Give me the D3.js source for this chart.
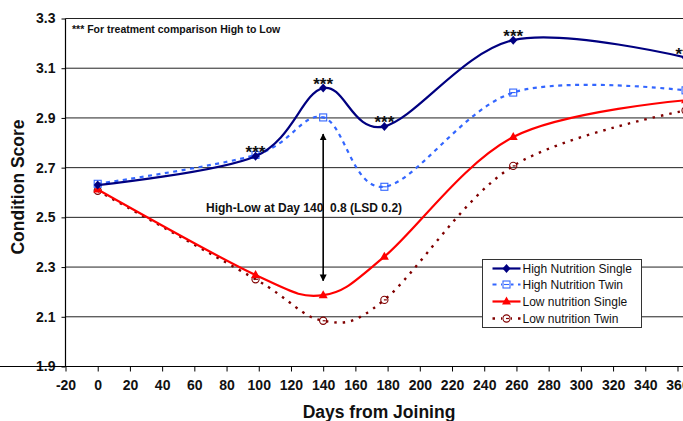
<!DOCTYPE html>
<html>
<head>
<meta charset="utf-8">
<script src="https://cdn.jsdelivr.net/npm/d3@7"></script>
<style>
  html, body { margin: 0; padding: 0; background: #fff; }
  svg { display: block; font-family: "Liberation Sans", Arial, sans-serif; }
</style>
</head>
<body>
<script>
// ---- Data ----
const days = [0, 98, 140, 178, 258, 365];
const highSingle = [2.630, 2.746, 3.020, 2.866, 3.213, 3.143];
const highTwin   = [2.635, 2.751, 2.902, 2.623, 3.002, 3.011];
const lowSingle  = [2.612, 2.268, 2.187, 2.342, 2.823, 2.971];
const lowTwin    = [2.607, 2.251, 2.084, 2.168, 2.707, 2.930];
const seriesNames = ["High Nutrition Single", "High Nutrition Twin", "Low nutrition Single", "Low nutrition Twin"];
const starDays = [98, 140, 178, 258, 365];
const xTickLabels = [-20, 0, 20, 40, 60, 80, 100, 120, 140, 160, 180, 200, 220, 240, 260, 280, 300, 320, 340, 360];
const yTickLabels = [1.9, 2.1, 2.3, 2.5, 2.7, 2.9, 3.1, 3.3];
const arrowDay = 140;
const arrowRange = [2.835, 2.245];
const noteText = "*** For treatment comparison High to Low";
const diffText = "High-Low at Day 140  0.8 (LSD 0.2)";

// ---- Layout ----
const W = 683, H = 421;
const svg = d3.select("body").append("svg").attr("width", W).attr("height", H);
svg.append("rect").attr("width", W).attr("height", H).attr("fill", "#fff");

const x = d3.scaleLinear().domain([-20, 380]).range([65.5, 65.5 + 400 * 1.6105]);
const y = d3.scaleLinear().domain([1.9, 3.3]).range([366.5, 18.5]);
const xMax = x(380);

// gridlines
svg.append("g").selectAll("line").data(yTickLabels.filter(v => v > 1.9)).join("line")
  .attr("x1", x(-20)).attr("x2", xMax)
  .attr("y1", d => y(d)).attr("y2", d => y(d))
  .attr("stroke", "#222").attr("stroke-width", 1);

// axes
const yAxis = svg.append("g").attr("transform", `translate(${x(-20)},0)`)
  .call(d3.axisLeft(y).tickValues(yTickLabels).tickSize(4).tickPadding(6).tickFormat(d => d.toFixed(1)));
const xAxis = svg.append("g").attr("transform", `translate(0,${y(1.9)})`)
  .call(d3.axisBottom(x).tickValues(xTickLabels).tickSize(5).tickPadding(9).tickFormat(d => String(d)));
[yAxis, xAxis].forEach(g => {
  g.select(".domain").attr("stroke", "#000").attr("stroke-width", 1.2);
  g.selectAll(".tick line").attr("stroke", "#000");
  g.selectAll(".tick text").attr("fill", "#111").attr("font-size", 14).attr("font-weight", "bold")
    .attr("font-family", "Liberation Sans, Arial, sans-serif");
});
yAxis.select(".domain").attr("d", `M0,${y(3.3)}V${y(1.9)}`);
xAxis.select(".domain").attr("d", `M0,0H${xMax}`);

// axis titles
svg.append("text").attr("transform", `translate(24,187) rotate(-90)`)
  .attr("text-anchor", "middle").attr("font-size", 17.5).attr("font-weight", "bold").attr("fill", "#111")
  .text("Condition Score");
svg.append("text").attr("x", 379).attr("y", 418)
  .attr("text-anchor", "middle").attr("font-size", 17.5).attr("font-weight", "bold").attr("fill", "#111")
  .text("Days from Joining");

// series
const series = [
  { name: seriesNames[0], vals: highSingle, color: "#000080", width: 2.2, dash: null, marker: "diamond" },
  { name: seriesNames[1], vals: highTwin,   color: "#3366FF", width: 2.2, dash: "4,4.5", marker: "square" },
  { name: seriesNames[2], vals: lowSingle,  color: "#FF0000", width: 2.2, dash: null, marker: "triangle" },
  { name: seriesNames[3], vals: lowTwin,    color: "#800000", width: 2.4, dash: "2.5,6", marker: "circle" }
];

const line = d3.line().curve(d3.curveCardinal.tension(0)).x(d => x(d[0])).y(d => y(d[1]));

function drawMarker(g, type, color) {
  if (type === "diamond") {
    g.append("path").attr("d", "M0,-4.5L4,0L0,4.5L-4,0Z").attr("fill", color);
  } else if (type === "square") {
    g.append("rect").attr("x", -3.5).attr("y", -3.5).attr("width", 7).attr("height", 7)
      .attr("fill", "none").attr("stroke", color).attr("stroke-width", 1.1);
    g.append("line").attr("x1", -2.5).attr("x2", 2.5).attr("stroke", color).attr("stroke-width", 1.1);
  } else if (type === "triangle") {
    g.append("path").attr("d", "M0,-5L4.5,3L-4.5,3Z").attr("fill", color);
  } else if (type === "circle") {
    g.append("circle").attr("r", 3.6).attr("fill", "none").attr("stroke", color).attr("stroke-width", 1.1);
    g.append("line").attr("x1", -0.5).attr("x2", 2.5).attr("stroke", color).attr("stroke-width", 1.2);
  }
}

// draw in reverse so High Nutrition Single is on top
series.slice().reverse().forEach(s => {
  const pts = days.map((d, i) => [d, s.vals[i]]);
  svg.append("path").attr("d", line(pts)).attr("fill", "none")
    .attr("stroke", s.color).attr("stroke-width", s.width)
    .attr("stroke-dasharray", s.dash);
  pts.forEach(p => {
    const g = svg.append("g").attr("transform", `translate(${x(p[0])},${y(p[1])})`);
    drawMarker(g, s.marker, s.color);
  });
});

// stars
starDays.forEach(d => {
  const v = highSingle[days.indexOf(d)];
  svg.append("text").attr("x", x(d)).attr("y", y(v) + 2).attr("text-anchor", "middle")
    .attr("font-size", 17).attr("font-weight", "bold").attr("fill", "#111").text("***");
});

// note
svg.append("text").attr("x", 72).attr("y", 33).attr("font-size", 10.5).attr("font-weight", "bold")
  .attr("fill", "#111").text(noteText);

// diff annotation
svg.append("text").attr("x", 206).attr("y", 212).attr("font-size", 12).attr("font-weight", "bold")
  .attr("fill", "#111").style("white-space", "pre").text(diffText);

// double-headed arrow
const defs = svg.append("defs");
defs.append("marker").attr("id", "ah").attr("viewBox", "0 0 10 10").attr("refX", 9).attr("refY", 5)
  .attr("markerWidth", 7).attr("markerHeight", 10).attr("markerUnits", "userSpaceOnUse")
  .attr("orient", "auto-start-reverse")
  .append("path").attr("d", "M0,0L10,5L0,10Z").attr("fill", "#000");
svg.append("line").attr("x1", x(arrowDay)).attr("x2", x(arrowDay))
  .attr("y1", y(arrowRange[0])).attr("y2", y(arrowRange[1]))
  .attr("stroke", "#000").attr("stroke-width", 1.6)
  .attr("marker-start", "url(#ah)").attr("marker-end", "url(#ah)");

// legend
const lg = svg.append("g");
lg.append("rect").attr("x", 482.5).attr("y", 259.5).attr("width", 159).attr("height", 68)
  .attr("fill", "#fff").attr("stroke", "#333").attr("stroke-width", 1);
const rowY = [268.5, 284.5, 301.5, 318.5];
series.forEach((s, i) => {
  const g = lg.append("g").attr("transform", `translate(0,${rowY[i]})`);
  g.append("line").attr("x1", 492.5).attr("x2", 520.5).attr("stroke", s.color)
    .attr("stroke-width", s.width).attr("stroke-dasharray", s.dash);
  const m = g.append("g").attr("transform", "translate(506.5,0)");
  if (s.dash) m.append("rect").attr("x", -4.5).attr("y", -4).attr("width", 9).attr("height", 8).attr("fill", "#fff");
  drawMarker(m, s.marker, s.color);
  g.append("text").attr("x", 522.5).attr("y", 4.3).attr("font-size", 12).attr("fill", "#111").text(s.name);
});
</script>
</body>
</html>
